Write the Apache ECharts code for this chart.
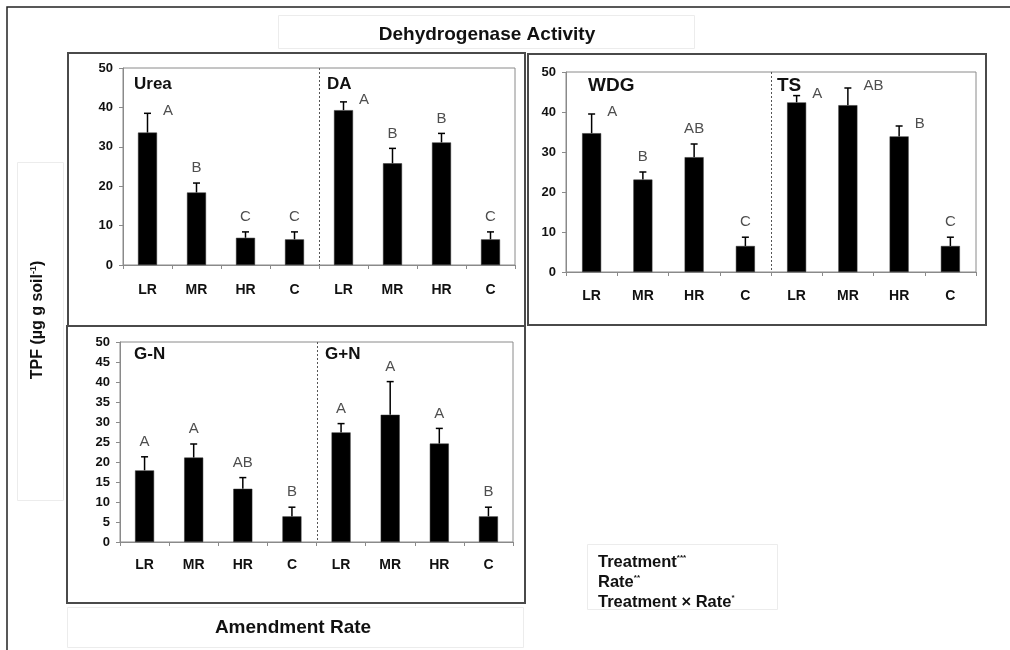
<!DOCTYPE html>
<html><head><meta charset="utf-8">
<script src="https://cdn.jsdelivr.net/npm/echarts@6/dist/echarts.min.js"></script>
<style>html,body{margin:0;padding:0;background:#fff}#c{width:1010px;height:650px}</style>
</head><body><div id="c"></div>
<script>
// ---------------- data ----------------
const rates = ['LR', 'MR', 'HR', 'C'];
const yTicksTop = [0, 10, 20, 30, 40, 50];
const yTicksBottom = [0, 5, 10, 15, 20, 25, 30, 35, 40, 45, 50];

const ureaMean = [33.6, 18.4, 6.9, 6.5];
const ureaErr  = [4.9, 2.4, 1.5, 1.9];
const ureaLetters = ['A', 'B', 'C', 'C'];

const daMean = [39.3, 25.8, 31.1, 6.5];
const daErr  = [2.1, 3.8, 2.3, 1.9];
const daLetters = ['A', 'B', 'B', 'C'];

const wdgMean = [34.7, 23.1, 28.7, 6.5];
const wdgErr  = [4.8, 1.9, 3.3, 2.2];
const wdgLetters = ['A', 'B', 'AB', 'C'];

const tsMean = [42.4, 41.7, 33.9, 6.5];
const tsErr  = [1.7, 4.3, 2.6, 2.2];
const tsLetters = ['A', 'AB', 'B', 'C'];

const gnMean = [17.9, 21.1, 13.3, 6.4];
const gnErr  = [3.4, 3.4, 2.8, 2.3];
const gnLetters = ['A', 'A', 'AB', 'B'];

const gpnMean = [27.4, 31.8, 24.6, 6.4];
const gpnErr  = [2.2, 8.3, 3.8, 2.3];
const gpnLetters = ['A', 'A', 'A', 'B'];

// ---------------- layout / style ----------------
const FONT = '"Liberation Sans", Arial, Helvetica, sans-serif';
const panels = [
  { grid: { left: 123, top: 68, width: 392, height: 197 }, ticks: yTicksTop, labelMargin: 18,
    mean: ureaMean.concat(daMean), err: ureaErr.concat(daErr), letters: ureaLetters.concat(daLetters),
    sides: ['right','top','top','top','right','top','top','top'] },
  { grid: { left: 566, top: 72, width: 410, height: 200 }, ticks: yTicksTop, labelMargin: 17,
    mean: wdgMean.concat(tsMean), err: wdgErr.concat(tsErr), letters: wdgLetters.concat(tsLetters),
    sides: ['right','top','top','top','right','right','right','top'] },
  { grid: { left: 120, top: 342, width: 393, height: 200 }, ticks: yTicksBottom, labelMargin: 16,
    mean: gnMean.concat(gpnMean), err: gnErr.concat(gpnErr), letters: gnLetters.concat(gpnLetters),
    sides: ['top','top','top','top','top','top','top','top'] }
];
const cats = rates.concat(rates);

const grids = [], xAxes = [], yAxes = [], series = [];
panels.forEach((p, k) => {
  grids.push(Object.assign({ show: true, borderColor: '#8a8a8a', borderWidth: 1, backgroundColor: 'transparent' }, p.grid));
  xAxes.push({
    type: 'category', gridIndex: k, data: cats,
    axisLine: { lineStyle: { color: '#8a8a8a', width: 1 } },
    axisTick: { show: true, length: 4, lineStyle: { color: '#8a8a8a' } },
    axisLabel: { color: '#111', fontFamily: FONT, fontWeight: 'bold', fontSize: 14, margin: p.labelMargin, interval: 0 }
  });
  const t = p.ticks;
  yAxes.push({
    type: 'value', gridIndex: k, min: t[0], max: t[t.length - 1], interval: t[1] - t[0],
    splitLine: { show: false },
    axisLine: { show: true, lineStyle: { color: '#8a8a8a', width: 1 } },
    axisTick: { show: true, length: 4, lineStyle: { color: '#8a8a8a' } },
    axisLabel: { color: '#111', fontFamily: FONT, fontWeight: 'bold', fontSize: 13, margin: 10 }
  });
  // bars
  series.push({
    type: 'bar', xAxisIndex: k, yAxisIndex: k, barWidth: 19,
    itemStyle: { color: '#000', borderColor: '#333', borderWidth: 0.5 },
    data: p.mean.map((v, i) => [i, v]), silent: true, animation: false
  });
  // error bars (upper only)
  series.push({
    type: 'custom', xAxisIndex: k, yAxisIndex: k, animation: false, silent: true,
    data: p.mean.map((v, i) => [i, v, +(v + p.err[i]).toFixed(2)]),
    renderItem: function (params, api) {
      const b = api.coord([api.value(0), api.value(1)]);
      const tp = api.coord([api.value(0), api.value(2)]);
      const st = { stroke: '#000', lineWidth: 1.5 };
      return { type: 'group', children: [
        { type: 'line', shape: { x1: b[0], y1: b[1], x2: tp[0], y2: tp[1] }, style: st },
        { type: 'line', shape: { x1: tp[0] - 3.5, y1: tp[1], x2: tp[0] + 3.5, y2: tp[1] }, style: st }
      ] };
    }
  });
  // divider between the two treatments
  series.push({
    type: 'custom', xAxisIndex: k, yAxisIndex: k, animation: false, silent: true,
    data: [[3, 4]],
    renderItem: function (params, api) {
      const a = api.coord([api.value(0), 0]);
      const c = api.coord([api.value(1), 0]);
      const x = Math.round((a[0] + c[0]) / 2) + 0.5;
      const cs = params.coordSys;
      return { type: 'line', shape: { x1: x, y1: cs.y, x2: x, y2: cs.y + cs.height },
        style: { stroke: '#555', lineWidth: 1, lineDash: [2, 2] } };
    }
  });
  // significance letters
  series.push({
    type: 'scatter', xAxisIndex: k, yAxisIndex: k, symbolSize: 1, animation: false, silent: true,
    itemStyle: { color: 'rgba(0,0,0,0)' },
    data: p.mean.map((v, i) => ({
      value: [i, +(v + p.err[i]).toFixed(2)],
      label: {
        show: true, formatter: p.letters[i], position: p.sides[i],
        distance: p.sides[i] === 'top' ? 7 : 15,
        offset: p.sides[i] === 'top' ? [0, 0] : [0, -2]
      }
    })),
    label: { color: '#222', fontFamily: FONT, fontSize: 15 }
  });
});

const txt = (x, y, s, size, extra) => ({
  type: 'text', x: x, y: y, silent: true,
  style: Object.assign({ text: s, font: 'bold ' + size + 'px ' + FONT, fill: '#111', textAlign: 'left', textVerticalAlign: 'middle' }, extra || {})
});
const rect = (x, y, w, h, stroke, lw) => ({ type: 'rect', silent: true, shape: { x: x, y: y, width: w, height: h },
  style: { fill: 'none', stroke: stroke, lineWidth: lw } });
const supText = (x, y, main, sup) => ({ type: 'text', x: x, y: y, silent: true,
  style: { text: main + '{s|' + sup + '}', font: 'bold 16.5px ' + FONT, fill: '#111', textVerticalAlign: 'middle',
    rich: { s: { fontSize: 8, fontWeight: 'bold', fontFamily: FONT, fill: '#111', padding: [0, 0, 9, 0] } } } });

const graphic = [
  { type: 'polyline', silent: true, shape: { points: [[7, 650], [7, 7], [1010, 7]] }, style: { stroke: '#222', lineWidth: 1.5, fill: 'none' } },
  rect(278.5, 15.5, 416, 33, '#ececec', 1),
  rect(17.5, 162.5, 46, 338, '#ececec', 1),
  rect(67.5, 607.5, 456, 40, '#ececec', 1),
  rect(587.5, 544.5, 190, 65, '#ececec', 1),
  rect(68, 53, 457, 273, '#4a4a4a', 2),
  rect(528, 54, 458, 271, '#4a4a4a', 2),
  rect(67, 326, 458, 277, '#4a4a4a', 2),
  txt(487, 35, 'Dehydrogenase Activity', 19, { textAlign: 'center' }),
  txt(293, 628, 'Amendment Rate', 19, { textAlign: 'center' }),
  txt(134, 84, 'Urea', 17), txt(327, 84, 'DA', 17),
  txt(588, 86, 'WDG', 19), txt(777, 86, 'TS', 19),
  txt(134, 354, 'G-N', 17), txt(325, 354, 'G+N', 17),
  { type: 'text', x: 38, y: 320, rotation: Math.PI / 2, silent: true,
    style: { text: 'TPF (µg g soil{s|-1})', font: 'bold 16px ' + FONT, fill: '#111', textAlign: 'center', textVerticalAlign: 'middle',
      rich: { s: { fontSize: 9, fontWeight: 'bold', fontFamily: FONT, fill: '#111', padding: [0, 0, 9, 0] } } } },
  supText(598, 562, 'Treatment', '***'),
  supText(598, 582, 'Rate', '**'),
  supText(598, 602, 'Treatment × Rate', '*')
];

const chart = echarts.init(document.getElementById('c'), null, { renderer: 'canvas' });
chart.setOption({
  animation: false,
  backgroundColor: '#fff',
  textStyle: { fontFamily: FONT },
  grid: grids, xAxis: xAxes, yAxis: yAxes, series: series, graphic: graphic
});
</script></body></html>
